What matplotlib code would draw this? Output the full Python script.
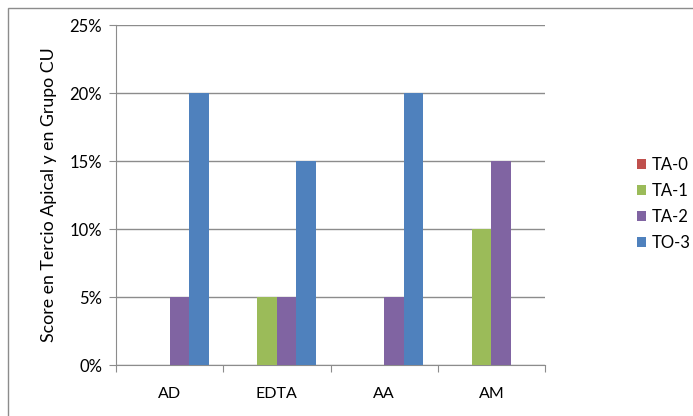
import numpy as np
import matplotlib.pyplot as plt
from matplotlib.patches import Rectangle
from matplotlib.ticker import FuncFormatter

categories = ["AD", "EDTA", "AA", "AM"]
series_names = ["TA-0", "TA-1", "TA-2", "TO-3"]
ta0 = [0, 0, 0, 0]
ta1 = [0, 5, 0, 10]
ta2 = [5, 5, 5, 15]
to3 = [20, 15, 20, 0]
colors = ["#C0504D", "#9BBB59", "#8064A2", "#4F81BD"]

plt.rcParams["font.family"] = ["Lato", "DejaVu Sans"]

fig = plt.figure(figsize=(6.93, 4.16), dpi=100)
ax = fig.add_axes([116 / 693, 1 - 365 / 416, (545 - 116) / 693, (365 - 25) / 416])

# outer chart border (only top and left edges fall inside the canvas)
fig.patches.append(Rectangle((8 / 693, -0.05), 1.0, 1.05 - 8 / 416,
                             transform=fig.transFigure, fill=False,
                             edgecolor="#8c8c8c", linewidth=1.0))

x = np.arange(len(categories)) + 0.5
width = 1 / 5.5
for i, (name, vals) in enumerate(zip(series_names, [ta0, ta1, ta2, to3])):
    ax.bar(x + (i - 1.5) * width, vals, width, color=colors[i], label=name,
           zorder=3)

ax.set_xlim(0, 4)
ax.set_ylim(0, 25)
ax.set_yticks([0, 5, 10, 15, 20, 25])
ax.yaxis.set_major_formatter(FuncFormatter(lambda v, _: f"{v:.0f}%"))
ax.grid(axis="y", color="#8c8c8c", linewidth=1.0, zorder=0)

ax.set_xticks([0, 1, 2, 3, 4])
ax.set_xticklabels([])
ax.set_xticks(x, minor=True)
ax.set_xticklabels(categories, minor=True)
ax.tick_params(axis="x", which="major", length=5, color="#8c8c8c")
ax.tick_params(axis="x", which="minor", length=0, pad=16, labelsize=11.5)
ax.tick_params(axis="y", length=5, color="#8c8c8c", labelsize=12, pad=5)

for side in ["top", "right"]:
    ax.spines[side].set_visible(False)
for side in ["left", "bottom"]:
    ax.spines[side].set_color("#8c8c8c")

ax.set_ylabel("Score en Tercio Apical y en Grupo CU", fontsize=12.8, labelpad=9)

ax.legend(loc="center left", bbox_to_anchor=(1.18, 0.475), frameon=False,
          handlelength=0.55, handleheight=0.55, handletextpad=0.3,
          labelspacing=0.6, fontsize=12)

fig.savefig("out.png", dpi=100)
